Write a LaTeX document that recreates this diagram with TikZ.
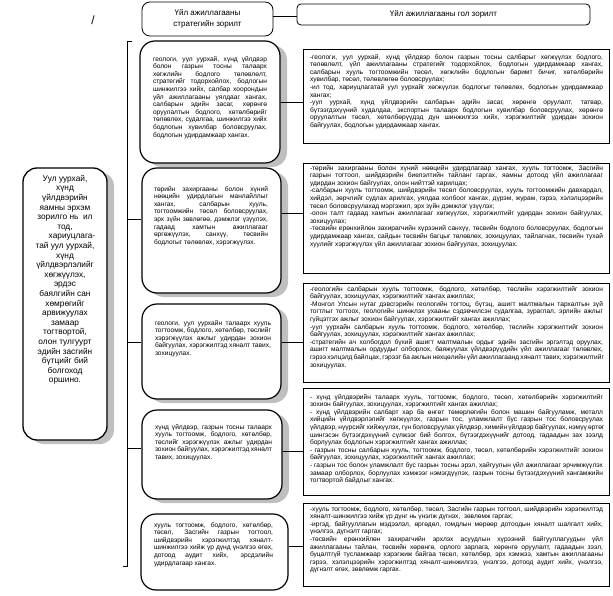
\documentclass[tikz,border=0pt]{standalone}
\usepackage{fontspec}
\setmainfont{Liberation Sans}
\usetikzlibrary{shadows,calc}
\newcommand\jline[1]{\hbox to\hsize{#1}\\}
\begin{document}
\begin{tikzpicture}[x=1pt,y=-1pt,
  box/.style={draw=black, fill=white, inner sep=0pt},
  midbox/.style={box, line width=1.2pt, rounded corners=15pt,
    drop shadow={shadow xshift=7pt, shadow yshift=-4pt, fill=black!25, opacity=1}},
  rbox/.style={box, line width=0.9pt},
  txt/.style={inner sep=0pt, anchor=north, align=justify,
    font=\fontsize{6.6}{7.6}\selectfont},
  conn/.style={draw=black, line width=0.8pt}]
\useasboundingbox (0,0) rectangle (613,596);

% header
\node[box, line width=0.8pt, rounded corners=8pt, minimum width=131pt, minimum height=34pt,
  align=center, font=\fontsize{8}{11.5}\selectfont] (h1) at (207.5,19)
  {Үйл ажиллагааны\\стратегийн зорилт};
\node[box, line width=0.8pt, rounded corners=4pt, minimum width=293pt, minimum height=21pt,
  font=\fontsize{8}{10}\selectfont] (h2) at (443.5,14.5) {Үйл ажиллагааны гол зорилт};
\draw[conn] ([yshift=3pt]h1.east) -- ([yshift=3pt]h1.east -| h2.west);
\node[font=\fontsize{12}{12}\selectfont, inner sep=0pt] (sl) at (93,20) {/};

% left box
\node[midbox, line width=1.3pt, rounded corners=14pt, minimum width=84pt, minimum height=272pt] (L) at (65,304) {};
\node[inner sep=0pt, anchor=north, align=center, font=\fontsize{8.3}{9.6}\selectfont] (Lt) at (65,175)
 {Уул уурхай,\\хүнд\\үйлдвэрийн\\яамны эрхэм\\зорилго нь\ \ ил\\тод,\\\hspace*{14pt}хариуцлага-\\тай уул уурхай,\\хүнд\\үйлдвэрлэлийг\\хөгжүүлэх,\\эрдэс\\баялгийн сан\\хөмрөгийг\\арвижуулах\\замаар\\тогтвортой,\\олон тулгуурт\\эдийн засгийн\\бүтцийг бий\\болгоход\\оршино.};

% bracket
\coordinate (bt) at (127,41);
\coordinate (bb) at (127,566);
\draw[conn] ([xshift=5pt]bt) -- (bt) -- (bb) -- ([xshift=-4pt]bb);

% middle boxes
\node[midbox, minimum width=140pt, minimum height=122pt] (m1) at (210,102) {};
\node[midbox, minimum width=139pt, minimum height=125pt] (m2) at (211.5,230.5) {};
\node[midbox, minimum width=139pt, minimum height=95pt] (m3) at (211.5,351.5) {};
\node[midbox, minimum width=140pt, minimum height=89pt] (m4) at (212,454.5) {};
\node[box, line width=1.2pt, rounded corners=15pt, minimum width=147pt, minimum height=76pt] (m5) at (214.5,552) {};

\node[txt, text width=114pt] (m1t) at (210,56)
 {\jline{геологи, уул уурхай, хүнд үйлдвэр}
  \jline{болон газрын тосны талаарх}
  \jline{хөгжлийн бодлого төлөвлөлт,}
  \jline{стратегийг тодорхойлох, бодлогын}
  \jline{шинжилгээ хийх, салбар хоорондын}
  \jline{үйл ажиллагааны уялдааг хангах,}
  \jline{салбарын эдийн засаг, хөрөнгө}
  \jline{оруулалтын бодлого, хөтөлбөрийг}
  \jline{төлөвлөх, судалгаа, шинжилгээ хийх}
  \jline{бодлогын хувилбар боловсруулах,}
  бодлогын удирдамжаар хангах.};
\node[txt, text width=114pt] (m2t) at (211,186)
 {\jline{төрийн захиргааны болон хүний}
  \jline{нөөцийн удирдлагын манлайллыг}
  \jline{хангах, салбарын хууль,}
  \jline{тогтоомжийн төсөл боловсруулах,}
  \jline{эрх зүйн зөвлөгөө, дэмжлэг үзүүлэх,}
  \jline{гадаад хамтын ажиллагааг}
  \jline{өргөжүүлэх, санхүү, төсвийн}
  бодлогыг төлөвлөх, хэрэгжүүлэх.};
\node[txt, text width=116pt] (m3t) at (213,320)
 {\jline{геологи, уул уурхайн талаарх хууль}
  \jline{тогтоомж, бодлого, хөтөлбөр, төслийг}
  \jline{хэрэгжүүлэх ажлыг удирдан зохион}
  \jline{байгуулах, хэрэгжилтэд хяналт тавих,}
  зохицуулах.};
\node[txt, text width=117pt] (m4t) at (213.5,424)
 {\jline{хүнд үйлдвэр, газрын тосны талаарх}
  \jline{хууль тогтоомж, бодлого, хөтөлбөр,}
  \jline{төслийг хэрэгжүүлэх ажлыг удирдан}
  \jline{зохион байгуулах, хэрэгжилтэд хяналт}
  тавих, зохицуулах.};
\node[txt, text width=119pt] (m5t) at (213.5,522)
 {\jline{хууль тогтоомж, бодлого, хөтөлбөр,}
  \jline{төсөл, Засгийн газрын тогтоол,}
  \jline{шийдвэрийн хэрэгжилтэд хяналт-}
  \jline{шинжилгээ хийж үр дүнд үнэлгээ өгөх,}
  \jline{дотоод аудит хийх, эрсдэлийн}
  удирдлагаар хангах.};

% right boxes
\node[rbox, minimum width=306pt, minimum height=94pt] (r1) at (456,96) {};
\node[rbox, minimum width=306pt, minimum height=110pt] (r2) at (456,218) {};
\node[rbox, minimum width=306pt, minimum height=99pt] (r3) at (456,332.5) {};
\node[rbox, minimum width=306pt, minimum height=107pt] (r4) at (456,441.5) {};
\node[rbox, minimum width=306pt, minimum height=83pt] (r5) at (456,544.5) {};

\node[txt, text width=293pt] (r1t) at (456.5,54)
 {\jline{-геологи, уул уурхай, хүнд үйлдвэр болон газрын тосны салбарыг хөгжүүлэх бодлого,}
  \jline{төлөвлөлт, үйл ажиллагааны стратегийг тодорхойлох, бодлогын удирдамжаар хангах,}
  \jline{салбарын хууль тогтоомжийн төсөл, хөгжлийн бодлогын баримт бичиг, хөтөлбөрийн}
  хувилбар, төсөл, төлөвлөгөө боловсруулах;\\
  \jline{-ил тод, хариуцлагатай уул уурхайг хөгжүүлэх бодлогыг төлөвлөх, бодлогын удирдамжаар}
  хангах;\\
  \jline{-уул уурхай, хүнд үйлдвэрийн салбарын эдийн засаг, хөрөнгө оруулалт, татвар,}
  \jline{бүтээгдэхүүний худалдаа, экспортын талаарх бодлогын хувилбар боловсруулах, хөрөнгө}
  \jline{оруулалтын төсөл, хөтөлбөрүүдэд дүн шинжилгээ хийх, хэрэгжилтийг удирдан зохион}
  байгуулах, бодлогын удирдамжаар хангах.};
\node[txt, text width=293pt] (r2t) at (456.5,165)
 {\jline{-төрийн захиргааны болон хүний нөөцийн удирдлагаар хангах, хууль тогтоомж, Засгийн}
  \jline{газрын тогтоол, шийдвэрийн биелэлтийн тайланг гаргах, яамны дотоод үйл ажиллагааг}
  удирдан зохион байгуулах, олон нийттэй харилцах;\\
  \jline{-салбарын хууль тогтоомж, шийдвэрийн төсөл боловсруулах, хууль тогтоомжийн давхардал,}
  \jline{хийдэл, зөрчлийг судлах арилгах, уялдаа холбоог хангах, дүрэм, журам, гэрээ, хэлэлцээрийн}
  төсөл боловсруулахад мэргэжил, эрх зүйн дэмжлэг үзүүлэх;\\
  \jline{-олон талт гадаад хамтын ажиллагааг хөгжүүлэх, хэрэгжилтийг удирдан зохион байгуулах,}
  зохицуулах;\\
  \jline{-төсвийн ерөнхийлөн захирагчийн хүрээний санхүү, төсвийн бодлого боловсруулах, бодлогын}
  \jline{удирдамжаар хангах, сайдын төсвийн багцыг төлөвлөх, зохицуулах, тайлагнах, төсвийн тухай}
  хуулийг хэрэгжүүлэх үйл ажиллагааг зохион байгуулах, зохицуулах.};
\node[txt, text width=293pt] (r3t) at (456.5,286)
 {\jline{-геологийн салбарын хууль тогтоомж, бодлого, хөтөлбөр, төслийн хэрэгжилтийг зохион}
  байгуулах, зохицуулах, хэрэгжилтийг хангах ажиллах;\\
  \jline{-Монгол Улсын нутаг дэвсгэрийн геологийн тогтоц, бүтэц, ашигт малтмалын тархалтын зүй}
  \jline{тогтлыг тогтоох, геологийн шинжлэх ухааны сэдэвчилсэн судалгаа, зураглал, эрлийн ажлыг}
  гүйцэтгэх ажлыг зохион байгуулах, хэрэгжилтийг хангах ажиллах;\\
  \jline{-уул уурхайн салбарын хууль тогтоомж, бодлого, хөтөлбөр, төслийн хэрэгжилтийг зохион}
  байгуулах, зохицуулах, хэрэгжилтийг хангах ажиллах;\\
  \jline{-стратегийн ач холбогдол бүхий ашигт малтмалын ордыг эдийн засгийн эргэлтэд оруулах,}
  \jline{ашигт малтмалын ордуудыг олборлох, баяжуулах үйлдвэрүүдийн үйл ажиллагааг төлөвлөх,}
  \jline{гэрээ хэлцэлд байлцах, гэрээт ба ажлын нөхцөлийн үйл ажиллагаанд хяналт тавих, хэрэгжилтийг}
  зохицуулах.};
\node[txt, text width=293pt] (r4t) at (456.5,394)
 {\jline{- хүнд үйлдвэрийн талаарх хууль, тогтоомж, бодлого, төсөл, хөтөлбөрийн хэрэгжилтийг}
  зохион байгуулах, зохицуулах, хэрэгжилтийг хангах ажиллах;\\
  \jline{- хүнд үйлдвэрийн салбарт хар ба өнгөт төмөрлөгийн болон машин байгууламж, металл}
  \jline{хийцийн үйлдвэрлэлийг хөгжүүлэх, газрын тос, уламжлалт бус газрын тос боловсруулах}
  \jline{үйлдвэр, нүүрсийг хийжүүлэх, гүн боловсруулах үйлдвэр, химийн үйлдвэр байгуулах, нэмүү өртөг}
  \jline{шингэсэн бүтээгдэхүүний сүлжээг бий болгох, бүтээгдэхүүнийг дотоод, гадаадын зах зээлд}
  борлуулах бодлогын хэрэгжилтийг хангах ажиллах;\\
  \jline{- газрын тосны салбарын хууль, тогтоомж, бодлого, төсөл, хөтөлбөрийн хэрэгжилтийг зохион}
  байгуулах, зохицуулах, хэрэгжилтийг хангах ажиллах;\\
  \jline{- газрын тос болон уламжлалт бус газрын тосны эрэл, хайгуулын үйл ажиллагааг эрчимжүүлэх}
  \jline{замаар олборлох, борлуулах хэмжээг нэмэгдүүлэх, газрын тосны бүтээгдэхүүний хангамжийн}
  тогтвортой байдлыг хангах.};
\node[txt, text width=293pt] (r5t) at (456.5,506)
 {\jline{-хууль тогтоомж, бодлого, хөтөлбөр, төсөл, Засгийн газрын тогтоол, шийдвэрийн хэрэгжилтэд}
  хяналт-шинжилгээ хийж үр дүнг нь үнэлж дүгнэх,\ \ зөвлөмж гаргах;\\
  \jline{-иргэд, байгууллагын мэдээлэл, өргөдөл, гомдлын мөрөөр дотоодын хяналт шалгалт хийх,}
  үнэлгээ, дүгнэлт гаргах;\\
  \jline{-төсвийн ерөнхийлөн захирагчийн эрхлэх асуудлын хүрээний байгууллагуудын үйл}
  \jline{ажиллагааны тайлан, төсвийн хөрөнгө, орлого зарлага, хөрөнгө оруулалт, гадаадын зээл,}
  \jline{буцалтгүй тусламжаар хэрэгжиж байгаа төсөл, хөтөлбөр, эрх хэмжээ, хамтын ажиллагааны}
  \jline{гэрээ, хэлэлцээрийн хэрэгжилтэд хяналт-шинжилгээ, үнэлгээ, дотоод аудит хийх, үнэлгээ,}
  дүгнэлт өгөх, зөвлөмж гаргах.};

% connectors middle -> right
\draw[conn] (m1.east) -- (m1.east -| r1.west);
\draw[conn] ([yshift=17.5pt]m2.east) -- ([yshift=17.5pt]m2.east -| r2.west);
\draw[conn] ([yshift=9.5pt]m3.east) -- ([yshift=9.5pt]m3.east -| r3.west);
\draw[conn] ([yshift=3.5pt]m4.east) -- ([yshift=3.5pt]m4.east -| r4.west);
\draw[conn] ([yshift=6pt]m5.east) -- ([yshift=6pt]m5.east -| r5.west);

% bracket -> middle boxes
\draw[conn] ([yshift=11.5pt]m2.west -| bt) -- ([yshift=11.5pt]m2.west);
\draw[conn] ([yshift=9.5pt]m3.west -| bt) -- ([yshift=9.5pt]m3.west);
\draw[conn] ([yshift=6.5pt]m4.west -| bt) -- ([yshift=6.5pt]m4.west);
\end{tikzpicture}
\end{document}
